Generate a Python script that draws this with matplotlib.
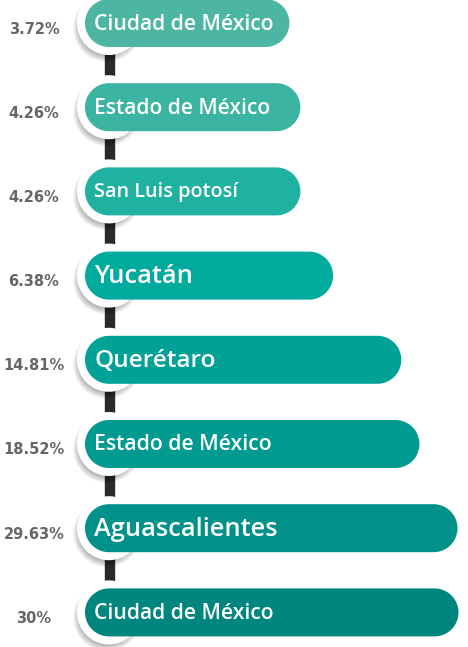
import matplotlib
matplotlib.use('Agg')
import matplotlib.pyplot as plt
import numpy as np
from matplotlib.patches import Polygon, Circle, Rectangle

# datos
estados = ['Ciudad de México', 'Estado de México', 'San Luis potosí', 'Yucatán',
           'Querétaro', 'Estado de México', 'Aguascalientes', 'Ciudad de México']
valores = [3.72, 4.26, 4.26, 6.38, 14.81, 18.52, 29.63, 30]
etiquetas = ['3.72%', '4.26%', '4.26%', '6.38%', '14.81%', '18.52%', '29.63%', '30%']

colores = ['#4db6a3', '#3bb4a1', '#20b2a0', '#00ab9d', '#00a197', '#009a91', '#00918b', '#00857f']
tam_texto = [15.2, 15.1, 14.3, 18.3, 17.6, 15.3, 18.3, 15.2]

W, H = 468, 647
fig = plt.figure(figsize=(W / 100, H / 100), dpi=100)
ax = fig.add_axes([0, 0, 1, 1])
ax.set_xlim(0, W)
ax.set_ylim(H, 0)
ax.axis('off')

x0 = 85          # inicio de la barra
alto = 48        # alto de la barra
cx, r = 109, 32  # circulo blanco
paso = 84.2
y_ini = 23

# escala logaritmica para el largo de las barras
largo = 98 + 81 * np.log(np.array(valores))

ys = y_ini + paso * np.arange(len(valores))


def pastilla(x, y, w, h, color):
    # barra con extremos redondos
    rr = h / 2
    t = np.linspace(-np.pi / 2, np.pi / 2, 40)
    der = np.column_stack([x + w - rr + rr * np.cos(t), y + rr * np.sin(t)])
    izq = np.column_stack([x + rr - rr * np.cos(t), y - rr * np.sin(t)])
    return Polygon(np.vstack([der, izq]), closed=True, fc=color, ec='none', zorder=4)


# conectores
for i in range(len(ys) - 1):
    ax.add_patch(Rectangle((cx - 4.5, ys[i]), 9, ys[i + 1] - ys[i],
                           color='#2a2a2a', zorder=1))

for i, (y, v) in enumerate(zip(ys, valores)):
    # sombra
    for k in range(10):
        ax.add_patch(Circle((cx - 2, y + 5), r + 2 - k * 0.7, color='#000000',
                            alpha=0.03, lw=0, zorder=2))
    ax.add_patch(Circle((cx, y), r, color='white', lw=0, zorder=3))
    ax.add_patch(pastilla(x0, y, largo[i], alto, colores[i]))
    ax.text(94, y + 1, estados[i], color='white', fontsize=tam_texto[i],
            family='Open Sans', weight='semibold', va='center', ha='left', zorder=5)
    ax.text(34, y + 6, etiquetas[i], color='#666666', fontsize=10.5,
            family='DejaVu Sans', weight='bold', va='center', ha='center', zorder=5)

fig.savefig('out.png', dpi=100)
